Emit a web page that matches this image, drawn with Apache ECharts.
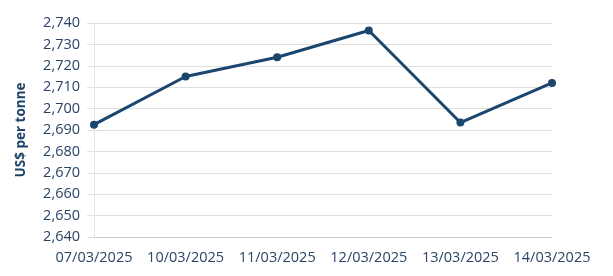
<!DOCTYPE html>
<html><head><meta charset="utf-8">
<script src="https://cdn.jsdelivr.net/npm/echarts@6/dist/echarts.min.js"></script>
<style>html,body{margin:0;padding:0;background:#fff}#c{width:613px;height:276px}</style>
</head><body><div id="c"></div>
<script>
const categories = ["07/03/2025","10/03/2025","11/03/2025","12/03/2025","13/03/2025","14/03/2025"];
const prices = [2692.5, 2715, 2724, 2736.5, 2693.5, 2712];
const yAxisName = "US$ per tonne";

const chart = echarts.init(document.getElementById('c'), null, {renderer:'canvas'});
const textColor = '#2a4466';
chart.setOption({
  animation:false,
  grid:{left:94, right:61, top:23, bottom:39},
  xAxis:{
    type:'category', data:categories, boundaryGap:false,
    axisLine:{lineStyle:{color:'#c8c8c8', width:1}},
    axisTick:{show:false},
    splitLine:{show:false},
    axisLabel:{color:textColor, fontFamily:'Open Sans', fontSize:14.5, margin:13, interval:0, hideOverlap:false}
  },
  yAxis:{
    type:'value', min:2640, max:2740, interval:10,
    name:yAxisName, nameLocation:'middle', nameGap:66, nameRotate:90,
    nameTextStyle:{color:'#1f4468', fontFamily:'Open Sans', fontSize:13.5, fontWeight:'bold'},
    axisLine:{show:true, lineStyle:{color:'#e6e6e6'}},
    axisTick:{show:true, length:7, lineStyle:{color:'#e0e0e0'}},
    splitLine:{lineStyle:{color:'#e0e0e0', width:1}},
    axisLabel:{color:textColor, fontFamily:'Open Sans', fontSize:14.5, margin:14,
      formatter:v=>v.toLocaleString('en-US')}
  },
  series:[{
    type:'line', data:prices, symbol:'circle', symbolSize:8,
    lineStyle:{color:'#1b466e', width:3},
    itemStyle:{color:'#1b466e'}
  }]
});
</script></body></html>
